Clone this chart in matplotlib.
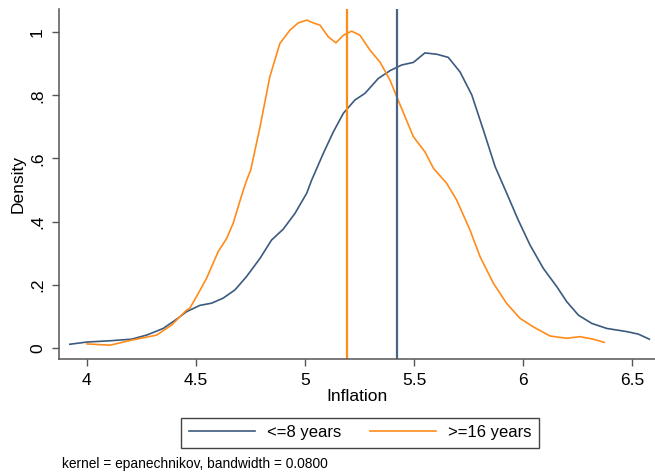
import matplotlib
matplotlib.use("Agg")
import matplotlib.pyplot as plt

plt.rcParams['font.family'] = ['Liberation Sans', 'DejaVu Sans']

# kernel density, <=8 years
low_x = [3.922, 4.001, 4.106, 4.205, 4.274, 4.350, 4.411, 4.457, 4.518, 4.572,
         4.625, 4.679, 4.733, 4.794, 4.847, 4.900, 4.954, 5.008, 5.031, 5.084,
         5.130, 5.176, 5.229, 5.275, 5.336, 5.390, 5.444, 5.497, 5.550, 5.604,
         5.657, 5.711, 5.765, 5.818, 5.872, 5.925, 5.978, 6.032, 6.093, 6.155,
         6.200, 6.254, 6.315, 6.384, 6.476, 6.529, 6.579]
low_y = [0.012, 0.019, 0.023, 0.028, 0.041, 0.062, 0.091, 0.115, 0.135, 0.142,
         0.158, 0.184, 0.227, 0.284, 0.342, 0.376, 0.426, 0.490, 0.532, 0.616,
         0.684, 0.743, 0.785, 0.806, 0.853, 0.878, 0.896, 0.904, 0.934, 0.930,
         0.920, 0.874, 0.801, 0.690, 0.574, 0.490, 0.405, 0.326, 0.252, 0.194,
         0.147, 0.104, 0.078, 0.062, 0.052, 0.044, 0.028]

# kernel density, >=16 years
high_x = [4.001, 4.106, 4.205, 4.320, 4.389, 4.457, 4.472, 4.511, 4.549, 4.602,
          4.641, 4.671, 4.710, 4.733, 4.751, 4.794, 4.839, 4.885, 4.931, 4.969,
          5.008, 5.038, 5.069, 5.107, 5.142, 5.176, 5.214, 5.252, 5.298, 5.344,
          5.390, 5.421, 5.459, 5.497, 5.550, 5.589, 5.650, 5.696, 5.757, 5.803,
          5.864, 5.925, 5.986, 6.047, 6.124, 6.200, 6.261, 6.322, 6.372]
high_y = [0.013, 0.009, 0.025, 0.041, 0.073, 0.120, 0.126, 0.173, 0.221, 0.305,
          0.347, 0.395, 0.484, 0.532, 0.563, 0.700, 0.859, 0.964, 1.006, 1.029,
          1.038, 1.029, 1.022, 0.985, 0.966, 0.990, 1.003, 0.990, 0.943, 0.905,
          0.848, 0.795, 0.732, 0.669, 0.621, 0.569, 0.521, 0.468, 0.373, 0.289,
          0.205, 0.141, 0.094, 0.067, 0.038, 0.031, 0.036, 0.028, 0.018]

low_mean = 5.422
high_mean = 5.193

xticks = [4, 4.5, 5, 5.5, 6, 6.5]
xticklabels = ['4', '4.5', '5', '5.5', '6', '6.5']
yticks = [0, 0.2, 0.4, 0.6, 0.8, 1.0]
yticklabels = ['0', '.2', '.4', '.6', '.8', '1']

blue = '#3b5a7e'
orange = '#ff8c1a'

fig = plt.figure(figsize=(6.55, 4.75), dpi=100)
ax = fig.add_axes([0.090, 0.244, 0.910, 0.737])

ax.plot(low_x, low_y, color=blue, lw=1.2, label='<=8 years')
ax.plot(high_x, high_y, color=orange, lw=1.2, label='>=16 years')
ax.axvline(low_mean, color='#4a6584', lw=1.6)
ax.axvline(high_mean, color=orange, lw=1.6)

ax.set_xlim(3.872, 6.605)
ax.set_ylim(-0.035, 1.073)
ax.set_xticks(xticks)
ax.set_xticklabels(xticklabels)
ax.set_yticks(yticks)
ax.set_yticklabels(yticklabels, rotation=90, va='center')

for side in ['top', 'right']:
    ax.spines[side].set_visible(False)
for side in ['left', 'bottom']:
    ax.spines[side].set_color('#555555')
    ax.spines[side].set_linewidth(1.1)
ax.tick_params(direction='out', length=5, width=1, color='#555555',
               labelsize=12.5, pad=5)

ax.set_xlabel('Inflation', fontsize=12.5, labelpad=1)
ax.set_ylabel('Density', fontsize=12.5, labelpad=3)

leg = fig.legend(loc='center', bbox_to_anchor=(360 / 655, 1 - 432.5 / 475),
                 ncol=2, fontsize=12, frameon=True, fancybox=False,
                 edgecolor='#444444', framealpha=1, handlelength=4,
                 handletextpad=0.7, columnspacing=1.7, borderpad=0.45)
leg.get_frame().set_linewidth(1.0)

fig.text(62 / 655, 1 - 464 / 475, 'kernel = epanechnikov, bandwidth = 0.0800',
         fontsize=9.9, va='center', ha='left')

fig.savefig('out.png', dpi=100)
